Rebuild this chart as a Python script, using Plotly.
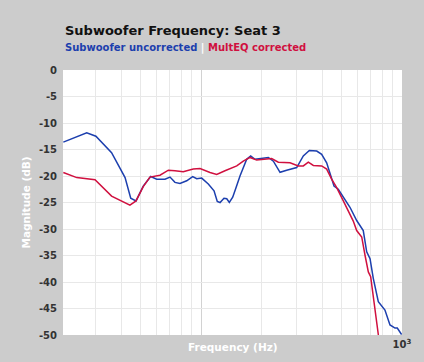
import plotly.graph_objects as go

# Uncorrected subwoofer response (Hz, dB)
blue_freq = [20.65, 27.0, 30.0, 35.9, 41.9, 44.7, 47.5, 51.6, 56.2, 60.2, 66.2, 70.1, 74.2, 78.6,
             84.9, 90.9, 95.2, 100.8, 108.7, 116.1, 120.5, 124.4, 130.1, 134.3, 138.3, 143.8,
             149.3, 156.3, 168.8, 176.7, 185.6, 196.7, 216.4, 229.1, 247.3, 266.8, 299.3,
             322.8, 345.9, 376.5, 398.4, 421.9, 438.2, 458.9, 482.0, 510.5, 551.0, 595.1,
             641.6, 667.4, 693.4, 719.6, 762.3, 822.6, 871.6, 922.9, 947.5, 995.4]
blue_db = [-13.6, -11.85, -12.5, -15.6, -20.3, -24.2, -24.7, -21.9, -20.1, -20.6, -20.6, -20.2,
           -21.2, -21.4, -20.9, -20.1, -20.5, -20.4, -21.5, -22.8, -24.8, -25.0, -24.2, -24.3,
           -25.0, -24.0, -22.2, -20.0, -16.85, -16.2, -16.85, -16.7, -16.5, -17.2, -19.3, -18.9,
           -18.4, -16.2, -15.2, -15.3, -15.9, -17.5, -19.3, -21.9, -22.5, -24.0, -25.9, -28.4,
           -30.3, -34.3, -35.6, -39.3, -43.7, -45.3, -48.1, -48.7, -48.7, -49.9]

# MultEQ corrected response (Hz, dB)
red_freq = [20.65, 24.1, 29.7, 35.9, 44.3, 47.5, 51.6, 55.7, 62.5, 68.8, 74.2, 81.6, 91.5, 98.9,
            110.9, 119.7, 131.6, 144.8, 150.6, 162.3, 175.4, 189.2, 208.0, 224.7, 242.5, 277.3,
            304.8, 322.8, 341.9, 362.2, 398.4, 421.9, 446.7, 473.2, 510.5, 551.0, 572.2, 595.1,
            630.4, 655.0, 680.0, 698.4, 734.5, 762.3, 777.7]
red_db = [-19.35, -20.3, -20.7, -23.8, -25.5, -24.7, -22.0, -20.2, -19.85, -18.9, -19.0, -19.2,
          -18.7, -18.6, -19.35, -19.7, -19.0, -18.4, -18.1, -17.2, -16.5, -17.0, -16.85, -16.7,
          -17.4, -17.5, -18.1, -18.1, -17.4, -18.0, -18.1, -18.7, -20.6, -22.2, -24.7, -27.2,
          -28.5, -30.3, -31.5, -35.0, -38.1, -39.0, -45.6, -50.2, -52.4]

y_ticks = [0, -5, -10, -15, -20, -25, -30, -35, -40, -45, -50]
y_ticktext = ["0", "-5", "-10", "-15", "-20", "-25", "-30", "-35", "-40", "-45", "-50"]
x_major = [100, 1000]
x_major_text = [" ", "10<sup>3</sup>"]
x_minor = [30, 40, 50, 60, 70, 80, 90, 200, 300, 400, 500, 600, 700, 800, 900]

BLUE = "#1c3fae"
RED = "#d0103f"
BG = "#cccccc"
FONT = "DejaVu Sans"

fig = go.Figure()
fig.add_trace(go.Scatter(x=blue_freq, y=blue_db, mode="lines",
                         line=dict(color=BLUE, width=1.5), name="Subwoofer uncorrected"))
fig.add_trace(go.Scatter(x=red_freq, y=red_db, mode="lines",
                         line=dict(color=RED, width=1.5), name="MultEQ corrected"))

fig.update_layout(
    width=424, height=362,
    margin=dict(l=63, r=22, t=70, b=25),
    paper_bgcolor=BG, plot_bgcolor="white",
    showlegend=False,
    font=dict(family=FONT, size=10, color="#333333"),
    xaxis=dict(type="log", range=[1.3134, 3.0], tickvals=x_major, ticktext=x_major_text,
               showgrid=True, gridcolor="#d2d2d2", gridwidth=1, zeroline=False,
               showline=False, ticks="", ticklabelstandoff=2,
               tickfont=dict(family=FONT, size=10, color="#333333", weight="bold"),
               minor=dict(tickvals=x_minor, showgrid=True, gridcolor="#e8e8e8", gridwidth=1, ticks="")),
    yaxis=dict(range=[-50, 0], tickvals=y_ticks, ticktext=y_ticktext,
               showgrid=True, gridcolor="#e8e8e8", gridwidth=1, zeroline=False,
               showline=False, ticks="", ticklabelstandoff=5,
               tickfont=dict(family=FONT, size=10, color="#333333", weight="bold")),
    annotations=[
        dict(text="<b>Subwoofer Frequency: Seat 3</b>", xref="paper", yref="paper",
             x=0, y=1, xanchor="left", yanchor="middle", yshift=40, showarrow=False,
             font=dict(family=FONT, size=13, color="#111111")),
        dict(text=f"<b><span style='color:{BLUE}'>Subwoofer uncorrected</span> "
                  f"<span style='color:#ffffff'>|</span> "
                  f"<span style='color:{RED}'>MultEQ corrected</span></b>",
             xref="paper", yref="paper", x=0, y=1, xanchor="left", yanchor="middle",
             yshift=22, showarrow=False, font=dict(family=FONT, size=10)),
        dict(text="<b>Frequency (Hz)</b>", xref="paper", yref="paper", x=0.5, y=0,
             xanchor="center", yanchor="middle", yshift=-12, showarrow=False,
             font=dict(family=FONT, size=10.5, color="#ffffff")),
        dict(text="<b>Magnitude (dB)</b>", xref="paper", yref="paper", x=0, y=0.5,
             xanchor="center", yanchor="middle", xshift=-38, textangle=-90, showarrow=False,
             font=dict(family=FONT, size=10.5, color="#ffffff")),
    ],
)

fig.write_html("out.html", config={"displayModeBar": False},
               post_script="document.body.style.margin='0';document.body.style.padding='0';")
